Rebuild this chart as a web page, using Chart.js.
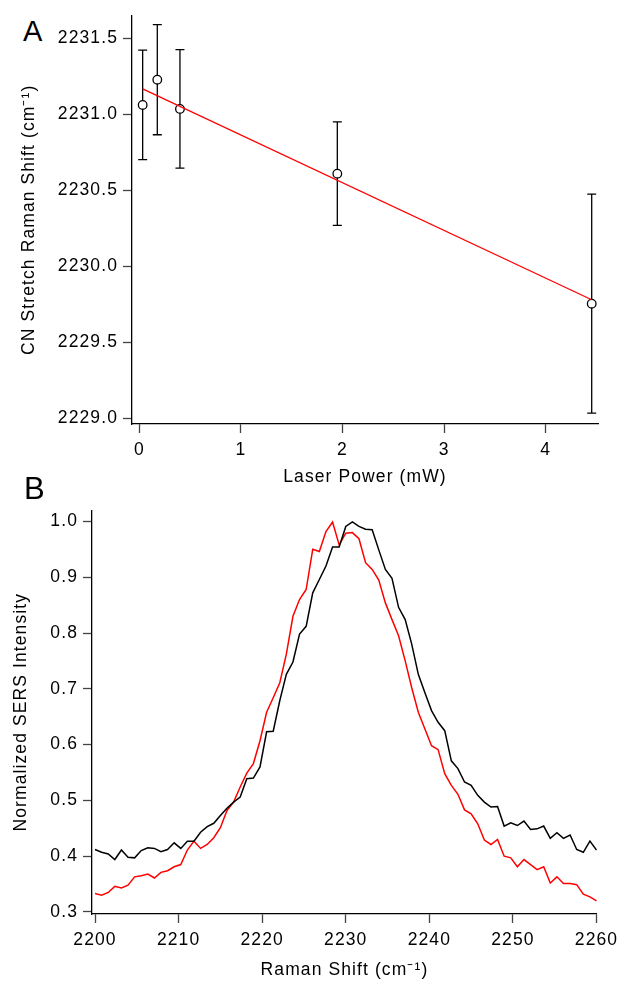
<!DOCTYPE html>
<html>
<head>
<meta charset="utf-8">
<script src="https://cdn.jsdelivr.net/npm/chart.js@4.4.1/dist/chart.umd.min.js"></script>
<style>
  body { margin: 0; background: #fff; }
  #wrap { position: relative; width: 623px; height: 983px; overflow: hidden; }
  canvas { position: absolute; left: 0; }
  .panel { position: absolute; font-family: "Liberation Sans", Arial, sans-serif; color: #000; line-height: 1; }
</style>
</head>
<body>
<div id="wrap">
  <div class="panel" style="left:23px; top:17px; font-size:29px;">A</div>
  <canvas id="chart-a" width="623" height="495" style="top:0"></canvas>
  <div class="panel" style="left:24px; top:473px; font-size:31px;">B</div>
  <canvas id="chart-b" width="623" height="488" style="top:495px"></canvas>
</div>
<script>
// Panel A: CN stretch position vs laser power
const powerMW = [0.033, 0.177, 0.40, 1.949, 4.453];
const cnShift = [2231.061, 2231.227, 2231.035, 2230.609, 2229.754];
const cnShiftErr = [0.36, 0.362, 0.39, 0.34, 0.72];
const fitPower = [0.033, 4.453];
const fitShift = [2231.167, 2229.78];
const ticksPower = [0, 1, 2, 3, 4];
const ticksShift = [2229.0, 2229.5, 2230.0, 2230.5, 2231.0, 2231.5];

// Panel B: normalized SERS spectra
const ramanShift = [
  2200.00, 2200.79, 2201.58, 2202.37, 2203.16, 2203.95, 2204.74, 2205.53, 2206.32, 2207.11,
  2207.89, 2208.68, 2209.47, 2210.26, 2211.05, 2211.84, 2212.63, 2213.42, 2214.21, 2215.00,
  2215.79, 2216.58, 2217.37, 2218.16, 2218.95, 2219.74, 2220.53, 2221.32, 2222.11, 2222.89,
  2223.68, 2224.47, 2225.26, 2226.05, 2226.84, 2227.63, 2228.42, 2229.21, 2230.00, 2230.79,
  2231.58, 2232.37, 2233.16, 2233.95, 2234.74, 2235.53, 2236.32, 2237.11, 2237.89, 2238.68,
  2239.47, 2240.26, 2241.05, 2241.84, 2242.63, 2243.42, 2244.21, 2245.00, 2245.79, 2246.58,
  2247.37, 2248.16, 2248.95, 2249.74, 2250.53, 2251.32, 2252.11, 2252.89, 2253.68, 2254.47,
  2255.26, 2256.05, 2256.84, 2257.63, 2258.42, 2259.21, 2260.00
];
const sersBlack = [
  0.412, 0.407, 0.404, 0.394, 0.411, 0.398, 0.397, 0.410, 0.415, 0.414,
  0.408, 0.412, 0.424, 0.414, 0.427, 0.427, 0.443, 0.453, 0.459, 0.473,
  0.486, 0.497, 0.506, 0.539, 0.540, 0.560, 0.623, 0.624, 0.679, 0.726,
  0.748, 0.798, 0.812, 0.872, 0.896, 0.920, 0.954, 0.954, 0.991, 0.999,
  0.991, 0.986, 0.985, 0.949, 0.914, 0.898, 0.846, 0.824, 0.780, 0.726,
  0.693, 0.661, 0.640, 0.625, 0.571, 0.557, 0.533, 0.527, 0.509, 0.497,
  0.488, 0.489, 0.454, 0.460, 0.455, 0.463, 0.448, 0.449, 0.454, 0.432,
  0.442, 0.432, 0.438, 0.412, 0.407, 0.427, 0.411
];
const sersRed = [
  0.333, 0.330, 0.335, 0.346, 0.343, 0.348, 0.363, 0.365, 0.368, 0.361,
  0.371, 0.374, 0.381, 0.385, 0.411, 0.427, 0.414, 0.421, 0.433, 0.451,
  0.482, 0.497, 0.524, 0.549, 0.566, 0.607, 0.658, 0.684, 0.711, 0.762,
  0.830, 0.860, 0.878, 0.950, 0.946, 0.982, 0.999, 0.958, 0.979, 0.980,
  0.969, 0.926, 0.914, 0.895, 0.854, 0.824, 0.795, 0.750, 0.702, 0.658,
  0.628, 0.598, 0.591, 0.548, 0.527, 0.511, 0.483, 0.476, 0.458, 0.429,
  0.421, 0.430, 0.400, 0.397, 0.381, 0.394, 0.385, 0.376, 0.381, 0.352,
  0.363, 0.351, 0.351, 0.349, 0.332, 0.327, 0.320
];
const ticksRaman = [2200, 2210, 2220, 2230, 2240, 2250, 2260];
const ticksSers = [0.3, 0.4, 0.5, 0.6, 0.7, 0.8, 0.9, 1.0];

const FONT = '"Liberation Sans", Arial, Helvetica, sans-serif';
const labelFont = { family: FONT, size: 17.5 };

// wider spacing to match the Igor-style lettering
const spacing = {
  id: 'spacing',
  beforeDraw(chart) { chart.ctx.letterSpacing = '1.1px'; }
};

const errorBars = {
  id: 'errorBars',
  beforeDatasetsDraw(chart) {
    const { ctx, scales: { x, y } } = chart;
    ctx.save();
    ctx.strokeStyle = '#000';
    ctx.lineWidth = 1.3;
    powerMW.forEach((p, i) => {
      const px = x.getPixelForValue(p);
      const top = y.getPixelForValue(cnShift[i] + cnShiftErr[i]);
      const bot = y.getPixelForValue(cnShift[i] - cnShiftErr[i]);
      ctx.beginPath();
      ctx.moveTo(px, top); ctx.lineTo(px, bot);
      ctx.moveTo(px - 4.5, top); ctx.lineTo(px + 4.5, top);
      ctx.moveTo(px - 4.5, bot); ctx.lineTo(px + 4.5, bot);
      ctx.stroke();
    });
    ctx.restore();
  }
};

function axis(opts) {
  return {
    type: 'linear',
    min: opts.min,
    max: opts.max,
    border: { display: true, color: '#000', width: 1.3 },
    grid: { display: true, drawOnChartArea: false, drawTicks: true, tickLength: 9, tickColor: '#444', tickWidth: 1.3 },
    ticks: { font: labelFont, color: '#000', padding: opts.pad, callback: opts.fmt },
    title: { display: true, text: opts.title, font: labelFont, color: '#000', padding: opts.titlePad },
    afterBuildTicks: s => { s.ticks = opts.ticks.map(v => ({ value: v })); },
    afterFit: opts.fit
  };
}

new Chart(document.getElementById('chart-a'), {
  type: 'scatter',
  data: {
    datasets: [{
      label: 'fit',
      data: fitPower.map((p, i) => ({ x: p, y: fitShift[i] })),
      showLine: true,
      borderColor: '#ff0000',
      borderWidth: 1.3,
      pointRadius: 0,
      order: 0
    }, {
      label: 'CN stretch',
      data: powerMW.map((p, i) => ({ x: p, y: cnShift[i] })),
      pointStyle: 'circle',
      pointRadius: 4.3,
      pointBorderWidth: 1.3,
      pointBorderColor: '#000',
      pointBackgroundColor: '#fff',
      order: 1
    }]
  },
  options: {
    responsive: false,
    animation: false,
    devicePixelRatio: 1,
    layout: { padding: { left: 0, right: 25, top: 13, bottom: 0 } },
    plugins: { legend: { display: false }, tooltip: { enabled: false } },
    scales: {
      x: axis({
        min: -0.072, max: 4.515, ticks: ticksPower, pad: 7,
        fmt: v => String(v),
        title: 'Laser Power (mW)', titlePad: { top: 0, bottom: 7.5 },
        fit: s => { s.height = 71; }
      }),
      y: axis({
        min: 2228.963, max: 2231.649, ticks: ticksShift, pad: 5,
        fmt: v => v.toFixed(1),
        title: 'CN Stretch Raman Shift (cm\u207B\u00B9)', titlePad: { top: 18.5, bottom: 0 },
        fit: s => { s.width = 132; }
      })
    }
  },
  plugins: [spacing, errorBars]
});

new Chart(document.getElementById('chart-b'), {
  type: 'line',
  data: {
    datasets: [{
      label: 'black',
      data: ramanShift.map((w, i) => ({ x: w, y: sersBlack[i] })),
      borderColor: '#000',
      borderWidth: 1.5,
      pointRadius: 0,
      tension: 0
    }, {
      label: 'red',
      data: ramanShift.map((w, i) => ({ x: w, y: sersRed[i] })),
      borderColor: '#ff0000',
      borderWidth: 1.5,
      pointRadius: 0,
      tension: 0
    }]
  },
  options: {
    responsive: false,
    animation: false,
    devicePixelRatio: 1,
    layout: { padding: { left: 0, right: 21, top: 14, bottom: 0 } },
    plugins: { legend: { display: false }, tooltip: { enabled: false } },
    scales: {
      x: axis({
        min: 2199.64, max: 2260.05, ticks: ticksRaman, pad: 7,
        fmt: v => String(v),
        title: 'Raman Shift (cm\u207B\u00B9)', titlePad: { top: 0, bottom: 2.5 },
        fit: s => { s.height = 69; }
      }),
      y: axis({
        min: 0.2964, max: 1.0196, ticks: ticksSers, pad: 5,
        fmt: v => v.toFixed(1),
        title: 'Normalized SERS Intensity', titlePad: { top: 10.3, bottom: 0 },
        fit: s => { s.width = 92; }
      })
    }
  },
  plugins: [spacing]
});
</script>
</body>
</html>
